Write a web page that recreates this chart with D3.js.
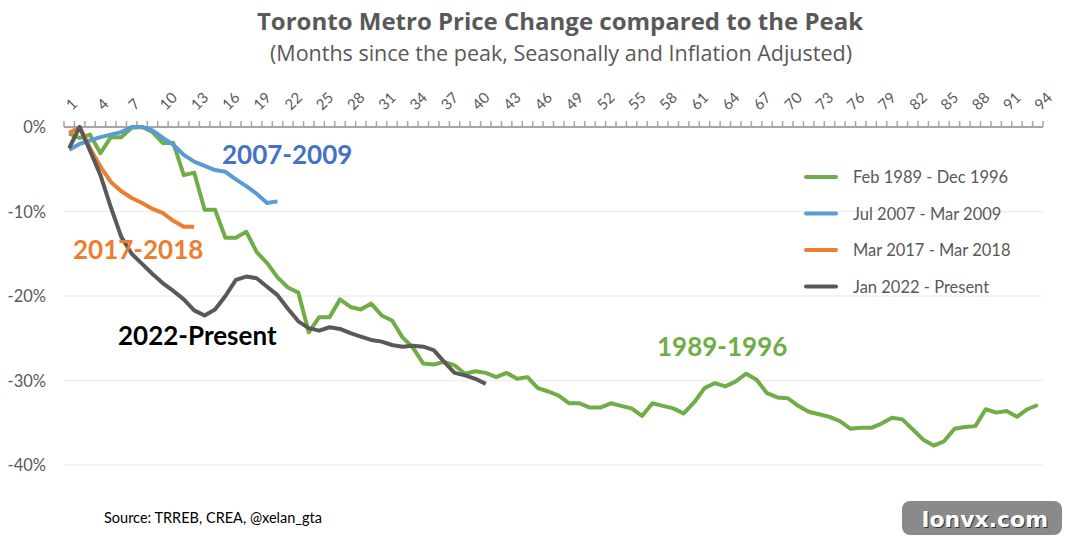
<!DOCTYPE html>
<html>
<head>
<meta charset="utf-8">
<script src="https://cdn.jsdelivr.net/npm/d3@7"></script>
<style>
  body { margin: 0; background: #fff; }
  svg { display: block; font-family: Lato, "Open Sans", sans-serif; }
</style>
</head>
<body>
<div id="chart"></div>
<script>
// months since the peak, 1..94
const months = d3.range(1, 95);
const monthLabels = months.filter(m => (m - 1) % 3 === 0);
const yTicks = [0, -0.1, -0.2, -0.3, -0.4];

// values in percent
const green8996 = [-0.8, -1.3, -0.9, -3.1, -1.2, -1.2, -0.1, 0, -0.6, -1.9,
  -1.9, -5.7, -5.4, -9.8, -9.8, -13.1, -13.1, -12.4, -14.8, -16.1,
  -17.8, -19.0, -19.6, -24.3, -22.5, -22.5, -20.4, -21.3, -21.6, -20.9,
  -22.3, -22.9, -24.9, -26.1, -28.0, -28.1, -27.8, -28.2, -29.2, -28.9,
  -29.1, -29.6, -29.1, -29.8, -29.6, -30.9, -31.3, -31.8, -32.7, -32.7,
  -33.2, -33.2, -32.7, -33.0, -33.3, -34.2, -32.7, -33.0, -33.3, -33.9,
  -32.6, -30.9, -30.3, -30.7, -30.1, -29.2, -29.9, -31.5, -32.0, -32.1,
  -33.0, -33.7, -34.0, -34.3, -34.8, -35.7, -35.6, -35.6, -35.1, -34.4,
  -34.6, -35.8, -37.0, -37.7, -37.2, -35.7, -35.5, -35.4, -33.4, -33.8,
  -33.6, -34.3, -33.4, -32.9];
const blue0709 = [-2.7, -2.0, -1.6, -1.2, -0.9, -0.6, 0, 0, -0.4, -1.3,
  -2.1, -3.3, -4.1, -4.6, -5.1, -5.3, -6.2, -7.0, -7.9, -9.0, -8.8];
const orange1718 = [-0.7, 0, -2.5, -4.7, -6.5, -7.6, -8.4, -9.0, -9.7, -10.2,
  -11.1, -11.8, -11.8];
const gray22 = [-2.5, 0, -2.8, -5.7, -9.5, -13.0, -15.0, -16.2, -17.4, -18.5,
  -19.4, -20.4, -21.7, -22.3, -21.6, -20.0, -18.1, -17.7, -17.9, -18.9,
  -19.9, -21.5, -23.0, -23.8, -24.1, -23.7, -23.9, -24.4, -24.8, -25.2,
  -25.4, -25.8, -26.0, -25.9, -26.0, -26.4, -27.8, -29.1, -29.4, -29.8, -30.4];

const seriesNames = ["Feb 1989 - Dec 1996", "Jul 2007 - Mar 2009", "Mar 2017 - Mar 2018", "Jan 2022 - Present"];
const seriesValues = [green8996, blue0709, orange1718, gray22];
const seriesColors = ["#70AD47", "#5B9BD5", "#ED7D31", "#595959"];

const width = 1066, height = 539;
const margin = { top: 127, right: 23, bottom: 74, left: 64 };

const svg = d3.select("#chart").append("svg")
  .attr("width", width).attr("height", height);

const x = d3.scalePoint().domain(months)
  .range([margin.left, width - margin.right]).padding(0.5);
const xBand = d3.scaleBand().domain(months)
  .range([margin.left, width - margin.right]);
const y = d3.scaleLinear().domain([-0.4, 0]).range([465, margin.top]);

// gridlines
svg.append("g").selectAll("line").data(yTicks.slice(1)).join("line")
  .attr("x1", margin.left).attr("x2", width - margin.right)
  .attr("y1", d => y(d)).attr("y2", d => y(d))
  .attr("stroke", "#efefef").attr("stroke-width", 1.5);

// y labels
svg.append("g").selectAll("text").data(yTicks).join("text")
  .attr("x", 46).attr("y", d => y(d) + 6)
  .attr("text-anchor", "end")
  .attr("font-size", 16.5).attr("fill", "#595959")
  .text(d => d3.format(".0%")(d).replace("−", "-"));

// top category axis
const axisG = svg.append("g");
axisG.append("line")
  .attr("x1", margin.left).attr("x2", width - margin.right)
  .attr("y1", y(0)).attr("y2", y(0))
  .attr("stroke", "#a6a6a6").attr("stroke-width", 2);
axisG.selectAll(".tick").data(months.concat(["end"])).join("line")
  .attr("x1", d => d === "end" ? width - margin.right : xBand(d))
  .attr("x2", d => d === "end" ? width - margin.right : xBand(d))
  .attr("y1", y(0)).attr("y2", y(0) - 6)
  .attr("stroke", "#a6a6a6").attr("stroke-width", 1.5);
axisG.selectAll("text").data(monthLabels).join("text")
  .attr("transform", d => `translate(${x(d) + 3},${y(0) - 16}) rotate(-45)`)
  .attr("font-size", 15).attr("fill", "#595959")
  .text(d => d);

// lines
const line = d3.line()
  .x((d, i) => x(months[i]))
  .y(d => y(d / 100));

svg.append("g").selectAll("path").data(seriesValues).join("path")
  .attr("d", d => line(d))
  .attr("fill", "none")
  .attr("stroke", (d, i) => seriesColors[i])
  .attr("stroke-width", 4)
  .attr("stroke-linejoin", "round");

// legend
const legend = svg.append("g").selectAll("g").data(seriesNames).join("g")
  .attr("transform", (d, i) => `translate(806,${177 + i * 36.5})`);
legend.append("line").attr("x1", 0).attr("x2", 30)
  .attr("stroke", (d, i) => seriesColors[i]).attr("stroke-width", 4)
  .attr("stroke-linecap", "round");
legend.append("text").attr("x", 47).attr("y", 6)
  .attr("font-size", 16.5).attr("fill", "#595959").text(d => d);

// period annotations
const notes = [
  { t: "2007-2009", x: 222, y: 164, c: "#4472C4" },
  { t: "2017-2018", x: 73, y: 259, c: "#ED7D31" },
  { t: "2022-Present", x: 118, y: 345, c: "#000000" },
  { t: "1989-1996", x: 657, y: 356, c: "#70AD47" }
];
svg.append("g").selectAll("text").data(notes).join("text")
  .attr("x", d => d.x).attr("y", d => d.y)
  .attr("font-size", 26).attr("font-weight", "bold")
  .attr("fill", d => d.c).text(d => d.t);

// titles
svg.append("text").attr("x", 560).attr("y", 30).attr("text-anchor", "middle")
  .attr("font-family", "'Open Sans', sans-serif")
  .attr("font-size", 24).attr("font-weight", "bold").attr("fill", "#595959")
  .text("Toronto Metro Price Change compared to the Peak");
svg.append("text").attr("x", 561).attr("y", 61).attr("text-anchor", "middle")
  .attr("font-family", "'Open Sans', sans-serif")
  .attr("font-size", 21.5).attr("fill", "#595959")
  .text("(Months since the peak, Seasonally and Inflation Adjusted)");

svg.append("text").attr("x", 104).attr("y", 523)
  .attr("font-size", 14.5).attr("fill", "#000")
  .text("Source: TRREB, CREA, @xelan_gta");

// watermark
const wm = svg.append("g").attr("font-family", "'DejaVu Sans', sans-serif");
wm.append("rect").attr("x", 902).attr("y", 501).attr("width", 160).attr("height", 34)
  .attr("rx", 8).attr("fill", "#8a8a8a");
wm.append("text").attr("x", 986).attr("y", 528).attr("text-anchor", "middle")
  .attr("font-size", 22).attr("font-weight", "bold").attr("fill", "#333")
  .text("lonvx.com");
wm.append("text").attr("x", 985).attr("y", 527).attr("text-anchor", "middle")
  .attr("font-size", 22).attr("font-weight", "bold").attr("fill", "#fff")
  .text("lonvx.com");
</script>
</body>
</html>
